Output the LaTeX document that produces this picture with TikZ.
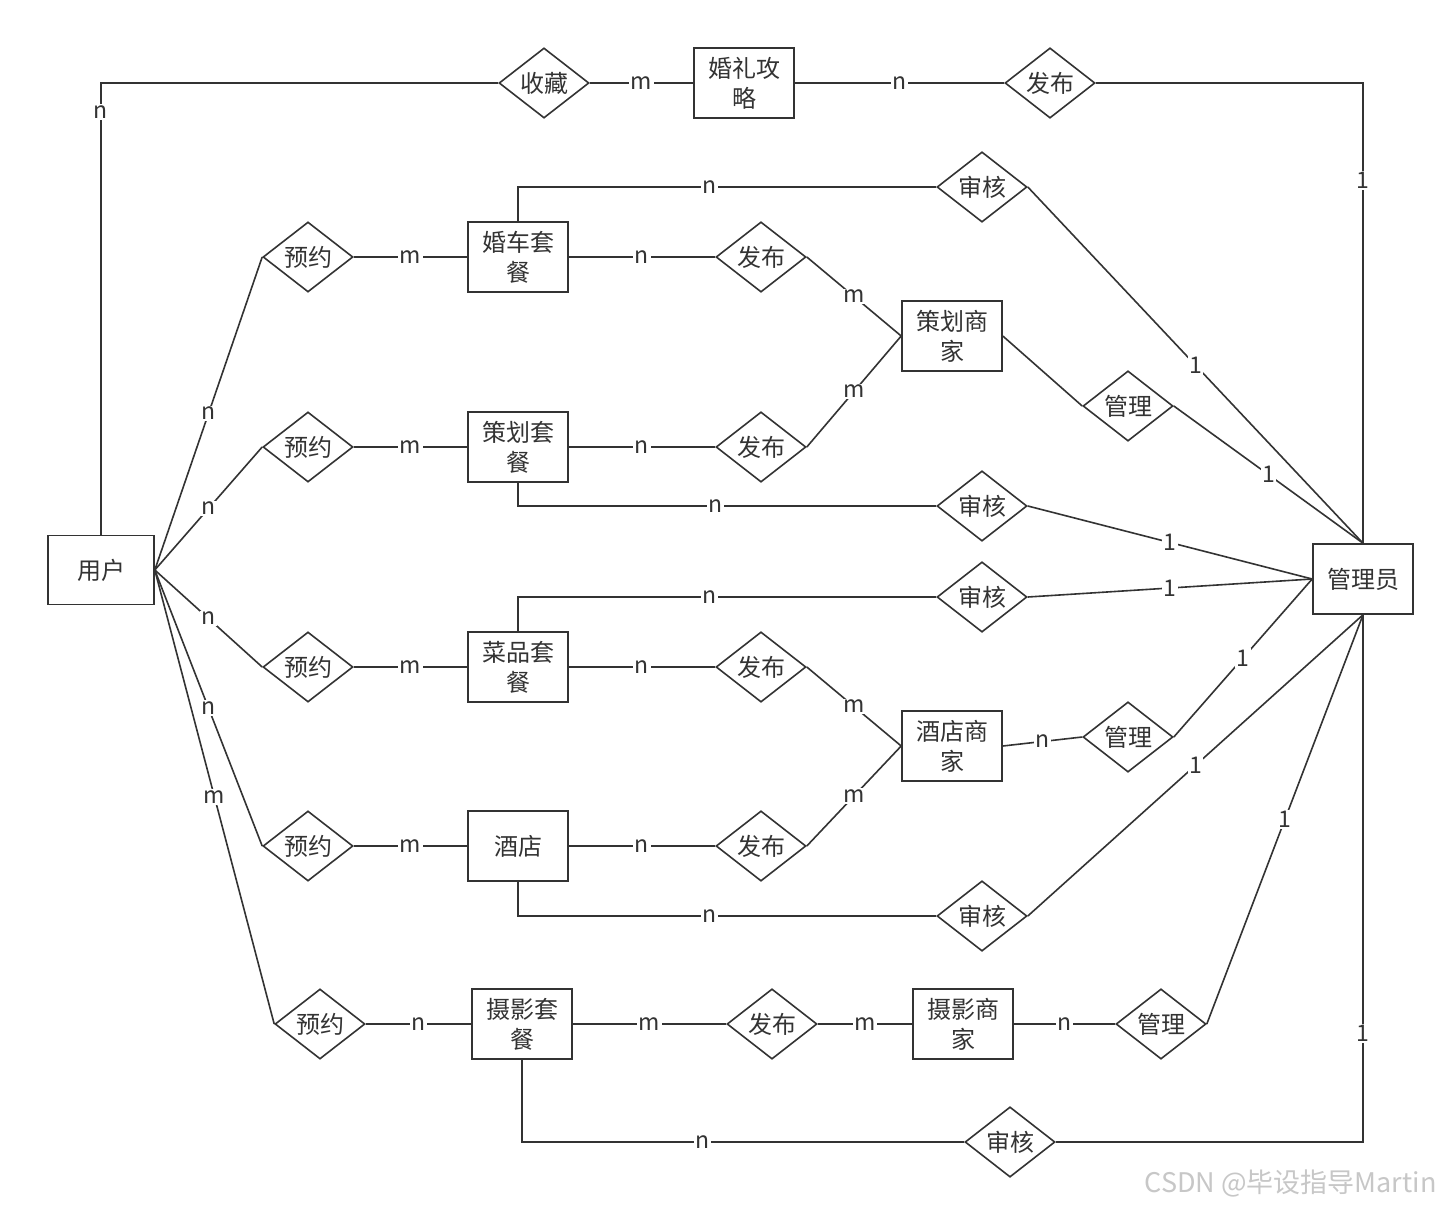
\documentclass[tikz,border=0pt]{standalone}
\usepackage{fontspec}
\setmainfont{Noto Sans CJK SC}
\usetikzlibrary{shapes.geometric}
\definecolor{ln}{HTML}{333333}
\begin{document}
\begin{tikzpicture}[x=1pt,y=-1pt,
  every node/.style={font=\fontsize{24}{30}\selectfont, text=ln},
  ent/.style={draw=ln, line width=1.6pt, rectangle, minimum width=100pt, minimum height=70pt, inner sep=0pt, align=center},
  rel/.style={draw=ln, line width=1.6pt, diamond, minimum width=90pt, minimum height=70pt, inner sep=0pt},
  lbl/.style={fill=white, inner sep=1.5pt, font=\fontsize{23}{26}\selectfont},
  conn/.style={draw=ln, line width=1.6pt}]
\fill[white] (0,0) rectangle (1444,1208);
\useasboundingbox (0,0) rectangle (1444,1208);

\node[ent, minimum width=106pt, minimum height=69pt] (user) at (101,570) {用户};
\node[rel] (sc) at (544,83) {收藏};
\node[ent] (hlgl) at (744,83) {婚礼攻\\略};
\node[rel] (fb0) at (1050,83) {发布};
\node[ent] (admin) at (1363,579) {管理员};
\node[rel] (sh1) at (982,187) {审核};
\node[rel] (yy1) at (308,257) {预约};
\node[ent] (hc) at (518,257) {婚车套\\餐};
\node[rel] (fb1) at (761,257) {发布};
\node[ent] (chsj) at (952,336) {策划商\\家};
\node[rel] (gl1) at (1128,406) {管理};
\node[rel] (yy2) at (308,447) {预约};
\node[ent] (ch) at (518,447) {策划套\\餐};
\node[rel] (fb2) at (761,447) {发布};
\node[rel] (sh2) at (982,506) {审核};
\node[rel] (sh3) at (982,597) {审核};
\node[rel] (yy3) at (308,667) {预约};
\node[ent] (cp) at (518,667) {菜品套\\餐};
\node[rel] (fb3) at (761,667) {发布};
\node[ent] (jdsj) at (952,746) {酒店商\\家};
\node[rel] (gl2) at (1128,737) {管理};
\node[rel] (yy4) at (308,846) {预约};
\node[ent] (jd) at (518,846) {酒店};
\node[rel] (fb4) at (761,846) {发布};
\node[rel] (sh4) at (982,916) {审核};
\node[rel] (yy5) at (320,1024) {预约};
\node[ent] (sy) at (522,1024) {摄影套\\餐};
\node[rel] (fb5) at (772,1024) {发布};
\node[ent] (sysj) at (963,1024) {摄影商\\家};
\node[rel] (gl3) at (1161,1024) {管理};
\node[rel] (sh5) at (1010,1142) {审核};

\draw[conn] (user.north) |- node[lbl,pos=0.468]{n} (sc.west);
\draw[conn] (sc.east) -- node[lbl]{m} (hlgl.west);
\draw[conn] (hlgl.east) -- node[lbl]{n} (fb0.west);
\draw[conn] (fb0.east) -| node[lbl,pos=0.606]{1} (admin.north);
\draw[conn] (hc.north) |- node[lbl,pos=0.729]{n} (sh1.west);
\draw[conn] (sh1.east) -- node[lbl]{1} (admin.north);
\draw[conn] (user.east) -- node[lbl]{n} (yy1.west);
\draw[conn] (yy1.east) -- node[lbl]{m} (hc.west);
\draw[conn] (hc.east) -- node[lbl]{n} (fb1.west);
\draw[conn] (fb1.east) -- node[lbl]{m} (chsj.west);
\draw[conn] (user.east) -- node[lbl]{n} (yy2.west);
\draw[conn] (yy2.east) -- node[lbl]{m} (ch.west);
\draw[conn] (ch.east) -- node[lbl]{n} (fb2.west);
\draw[conn] (fb2.east) -- node[lbl]{m} (chsj.west);
\draw[conn] (chsj.east) -- (gl1.west);
\draw[conn] (gl1.east) -- node[lbl]{1} (admin.north);
\draw[conn] (ch.south) |- node[lbl,pos=0.736]{n} (sh2.west);
\draw[conn] (sh2.east) -- node[lbl]{1} (admin.west);
\draw[conn] (cp.north) |- node[lbl,pos=0.729]{n} (sh3.west);
\draw[conn] (sh3.east) -- node[lbl]{1} (admin.west);
\draw[conn] (user.east) -- node[lbl]{n} (yy3.west);
\draw[conn] (yy3.east) -- node[lbl]{m} (cp.west);
\draw[conn] (cp.east) -- node[lbl]{n} (fb3.west);
\draw[conn] (fb3.east) -- node[lbl]{m} (jdsj.west);
\draw[conn] (jdsj.east) -- node[lbl]{n} (gl2.west);
\draw[conn] (gl2.east) -- node[lbl]{1} (admin.west);
\draw[conn] (user.east) -- node[lbl]{n} (yy4.west);
\draw[conn] (yy4.east) -- node[lbl]{m} (jd.west);
\draw[conn] (jd.east) -- node[lbl]{n} (fb4.west);
\draw[conn] (fb4.east) -- node[lbl]{m} (jdsj.west);
\draw[conn] (jd.south) |- node[lbl,pos=0.729]{n} (sh4.west);
\draw[conn] (sh4.east) -- node[lbl]{1} (admin.south);
\draw[conn] (user.east) -- node[lbl]{m} (yy5.west);
\draw[conn] (yy5.east) -- node[lbl]{n} (sy.west);
\draw[conn] (sy.east) -- node[lbl]{m} (fb5.west);
\draw[conn] (fb5.east) -- node[lbl]{m} (sysj.west);
\draw[conn] (sysj.east) -- node[lbl]{n} (gl3.west);
\draw[conn] (gl3.east) -- node[lbl]{1} (admin.south);
\draw[conn] (sy.south) |- node[lbl,pos=0.704]{n} (sh5.west);
\draw[conn] (sh5.east) -| node[lbl,pos=0.603]{1} (admin.south);

\node[anchor=east, text=black!22, font=\fontsize{27}{30}\selectfont] (wm) at (1440,1183) {CSDN @毕设指导Martin};
\end{tikzpicture}
\end{document}
